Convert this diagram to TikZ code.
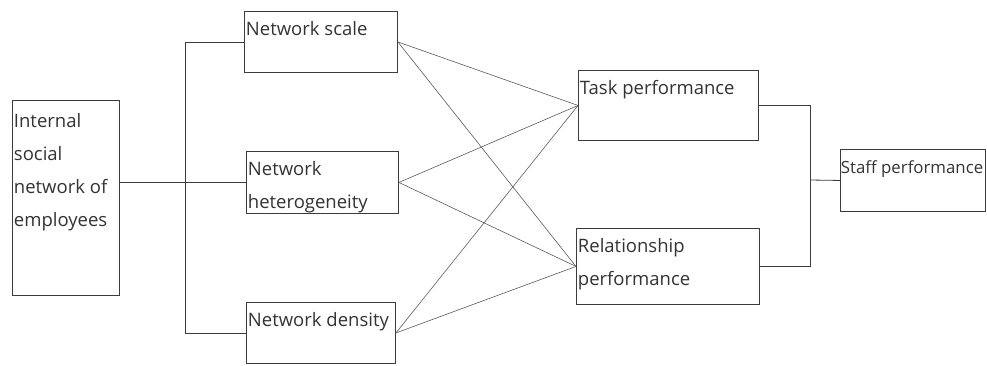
\documentclass[tikz,border=0pt]{standalone}
\usepackage{fontspec}
\setmainfont{Open Sans}
\usetikzlibrary{positioning,calc}
\definecolor{boxcol}{RGB}{60,60,60}
\definecolor{linkcol}{RGB}{90,90,90}
% box content: width, height, text (top left)
\newcommand{\boxin}[3]{\parbox[c][#2pt][t]{#1pt}{\raggedright\leftskip=1.5pt\rule{0pt}{24pt}#3}}

\begin{document}
\begin{tikzpicture}[x=1pt,y=-1pt,
    varbox/.style={draw=boxcol,line width=0.9pt,inner sep=0pt,anchor=north west,
                   font=\fontsize{18.5}{33}\selectfont,text=black!80},
    link/.style={linkcol,line width=0.6pt},
    bus/.style={boxcol,line width=0.8pt}]
  \useasboundingbox (0,0) rectangle (987,365);
  % antecedent
  \node[varbox] (isn) at (12,100) {\boxin{107}{195}{\rule{0pt}{27pt}Internal\\social\\network of\\employees}};
  % network features
  \node[varbox] (scale) at (244,11) {\boxin{153}{61}{Network scale}};
  \node[varbox] (hetero) at (246,151) {\boxin{152}{62}{Network\\heterogeneity}};
  \node[varbox] (density) at (246,302) {\boxin{149}{61}{Network density}};
  % performance
  \node[varbox] (task) at (578,70) {\boxin{180}{70}{Task performance}};
  \node[varbox] (rel) at (576,228) {\boxin{183}{76}{Relationship\\performance}};
  \node[varbox,font=\fontsize{16.8}{33}\selectfont] (staff) at (840,149)
    {\boxin{145}{62}{\hspace{-1pt}\mbox{Staff performance}}};
  % left bracket
  \coordinate (lbus) at (185,182);
  \draw[bus] (scale.west) -| (lbus);
  \draw[bus] (density.west) -| (lbus);
  \draw[bus] (hetero.west -| isn.east) -- (hetero.west);
  % crossing links
  \foreach \src in {scale,hetero,density}
    \foreach \dst in {task,rel}
      \draw[link] (\src.east) -- (\dst.west);
  % right bracket
  \coordinate (rbus) at (810,180);
  \draw[bus] (task.east) -| (rbus);
  \draw[bus] (rel.east) -| (rbus);
  \draw[bus] (rbus) -- (staff.west);
\end{tikzpicture}
\end{document}
